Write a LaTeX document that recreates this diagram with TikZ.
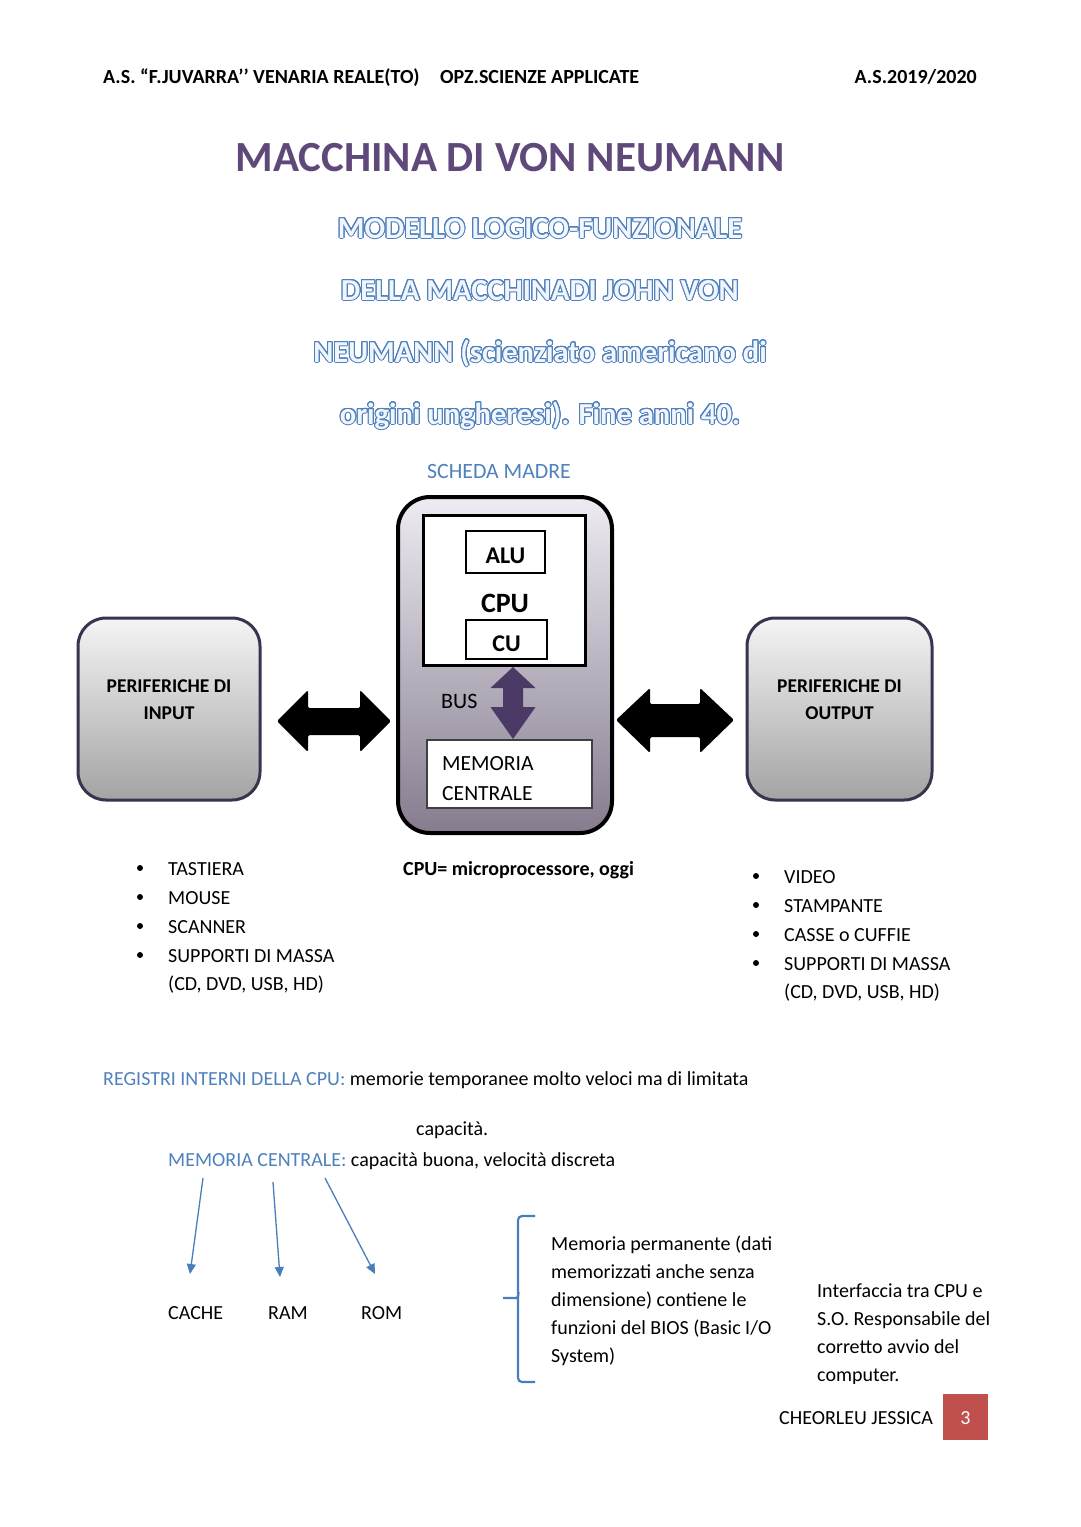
\documentclass[tikz,border=0pt]{standalone}
\usepackage{fontspec}
\setmainfont{Carlito}
\usepackage{contour}
\usetikzlibrary{arrows.meta}
\definecolor{titlepurple}{HTML}{5F497A}
\definecolor{accblue}{HTML}{4F81BD}
\definecolor{linkblue}{HTML}{4A7EBB}
\definecolor{busp}{HTML}{4B3A66}
\definecolor{boxborder}{HTML}{3B3250}
\definecolor{pagered}{HTML}{C0504D}
\definecolor{outfill}{HTML}{F2F6FC}
\definecolor{mbtop}{HTML}{EEEBF2}
\definecolor{mbbot}{HTML}{857C8E}
\newcommand\fsz[2]{\fontsize{#1}{#2}\selectfont}
\contourlength{1pt}
\contournumber{32}
\begin{document}
\begin{tikzpicture}[x=1pt,y=-1pt,
  txt/.style={inner sep=0pt, anchor=base west, font=\fsz{20}{24}},
  hdr/.style={txt, font=\fsz{20}{24}\bfseries},
  titlest/.style={inner sep=0pt, anchor=base, font=\fsz{43}{50}\bfseries, text=titlepurple},
  subt/.style={inner sep=0pt, anchor=base, font=\fsz{30.5}{36}\bfseries, text=outfill},
  periph/.style={draw=boxborder, line width=3pt, rounded corners=28pt, top color=white!96!black, bottom color=black!36},
  plain/.style={draw=black, fill=white, inner sep=0pt},
  lbl/.style={inner sep=0pt, anchor=base, font=\fsz{19.5}{23}\bfseries},
  cpulbl/.style={inner sep=0pt, anchor=base, font=\fsz{24}{28}\bfseries},
  bul/.style={circle, fill=black, inner sep=0pt, minimum size=6pt},
  link/.style={draw=linkblue, line width=1.3pt, -{Triangle[width=9pt,length=10pt]}},
  bigarrow/.style={fill=black},
]
\fill[white] (0,0) rectangle (1080,1527);
\useasboundingbox (0,0) rectangle (1080,1527);

% header
\node[hdr] (hdrA) at (103,83) {A.S. “F.JUVARRA’’ VENARIA REALE(TO)};
\node[hdr] (hdrB) at (440,83) {OPZ.SCIENZE APPLICATE};
\node[hdr, anchor=base east] (hdrC) at (977,83) {A.S.2019/2020};

% title
\node[titlest] (title) at (510,171) {MACCHINA DI VON NEUMANN};
\node[subt] (sub1) at (540,238) {\contour{accblue}{MODELLO LOGICO-FUNZIONALE}};
\node[subt] (sub2) at (540,300) {\contour{accblue}{DELLA MACCHINADI JOHN VON}};
\node[subt] (sub3) at (540,362) {\contour{accblue}{NEUMANN (scienziato americano di}};
\node[subt] (sub4) at (540,424) {\contour{accblue}{origini ungheresi). Fine anni 40.}};

\node[txt, anchor=base, text=accblue, font=\fsz{21.8}{26}] (scheda) at (499,478) {SCHEDA MADRE};

% motherboard
\node[draw=black, line width=4pt, rounded corners=32pt, top color=mbtop, bottom color=mbbot,
      minimum width=214pt, minimum height=336pt, inner sep=0pt] (mb) at (505,665) {};
\node[plain, line width=3pt, minimum width=162pt, minimum height=150pt] (cpu) at (504,590) {};
\node[plain, line width=2pt, minimum width=79pt, minimum height=42pt] (alu) at (505.5,552) {};
\node[cpulbl] (alut) at (505.5,563) {ALU};
\node[cpulbl, font=\fsz{28}{32}\bfseries] (cput) at (505,612) {CPU};
\node[plain, line width=2pt, minimum width=81pt, minimum height=39pt] (cu) at (506.5,639.5) {};
\node[cpulbl] (cut) at (506.5,651) {CU};
\node[txt, font=\fsz{22}{26}] (bus) at (441,708) {BUS};
\node[plain, draw=black!75, line width=2pt, minimum width=165pt, minimum height=68pt] (mem) at (509.5,774) {};
\node[txt, font=\fsz{21.6}{26}] (mem1) at (442,770) {MEMORIA};
\node[txt, font=\fsz{21.6}{26}] (mem2) at (442,800) {CENTRALE};

% bus arrow
\fill[busp] (513,667) -- (535.5,688) -- (523,688) -- (523,707) -- (535.5,707) -- (513,739)
  -- (490.5,707) -- (503,707) -- (503,688) -- (490.5,688) -- cycle;

% peripherals
\node[periph, minimum width=182pt, minimum height=182pt] (inbox) at (169,709) {};
\node[lbl] (in1) at (169,692) {PERIFERICHE DI};
\node[lbl] (in2) at (169,719) {INPUT};
\node[periph, minimum width=185pt, minimum height=182pt] (outbox) at (839.5,709) {};
\node[lbl] (out1) at (839.5,692) {PERIFERICHE DI};
\node[lbl] (out2) at (839.5,719) {OUTPUT};

% big double arrows
\fill[bigarrow, rounded corners=1.5pt] (277,721) -- (308,690) -- (308,708) -- (360,708) -- (360,690) -- (391,721)
  -- (360,752) -- (360,735) -- (308,735) -- (308,752) -- cycle;
\fill[bigarrow, rounded corners=1.5pt] (616,720) -- (650,688) -- (650,704) -- (700,704) -- (700,688) -- (734,720)
  -- (700,753) -- (700,737) -- (650,737) -- (650,753) -- cycle;

% input list
\node[bul] (bi1) at (140,868) {};
\node[txt] (li1) at (168,875) {TASTIERA};
\node[bul] (bi2) at (140,897) {};
\node[txt] (li2) at (168,904) {MOUSE};
\node[bul] (bi3) at (140,926) {};
\node[txt] (li3) at (168,933) {SCANNER};
\node[bul] (bi4) at (140,955) {};
\node[txt] (li4) at (168,962) {SUPPORTI DI MASSA};
\node[txt] (li5) at (168,990) {(CD, DVD, USB, HD)};

\node[txt, font=\fsz{20}{24}\bfseries] (cpueq) at (403,875) {CPU= microprocessore, oggi};

% output list
\node[bul] (bo1) at (756,876) {};
\node[txt] (lo1) at (784,883) {VIDEO};
\node[bul] (bo2) at (756,905) {};
\node[txt] (lo2) at (784,912) {STAMPANTE};
\node[bul] (bo3) at (756,934) {};
\node[txt] (lo3) at (784,941) {CASSE o CUFFIE};
\node[bul] (bo4) at (756,963) {};
\node[txt] (lo4) at (784,970) {SUPPORTI DI MASSA};
\node[txt] (lo5) at (784,998) {(CD, DVD, USB, HD)};

% registers / memory text
\node[txt] (reg) at (103,1085) {\textcolor{accblue}{REGISTRI INTERNI DELLA CPU:} memorie temporanee molto veloci ma di limitata};
\node[txt] (cap) at (416,1135) {capacità.};
\node[txt] (memc) at (168,1166) {\textcolor{accblue}{MEMORIA CENTRALE:} capacità buona, velocità discreta};

\coordinate (s1) at (203,1178);
\coordinate (s2) at (273,1182);
\coordinate (s3) at (325,1178);
\coordinate (e1) at (190,1274);
\coordinate (e2) at (280,1277);
\coordinate (e3) at (375,1274);
\draw[link] (s1) -- (e1);
\draw[link] (s2) -- (e2);
\draw[link] (s3) -- (e3);

\node[txt] (cache) at (168,1319) {CACHE};
\node[txt] (ram) at (268,1319) {RAM};
\node[txt] (rom) at (361,1319) {ROM};

% bracket
\draw[linkblue, line width=2.2pt, rounded corners=4pt] (535,1216) -- (518,1216) -- (518,1382) -- (535,1382);
\draw[linkblue, line width=2.2pt] (503,1298) -- (516,1298) to[out=0,in=-95] (518.5,1292);

\begin{scope}
\clip (540,1225) rectangle (800,1366);
\node[txt] (rm1) at (551,1250) {Memoria permanente (dati};
\node[txt] (rm2) at (551,1278) {memorizzati anche senza};
\node[txt] (rm3) at (551,1306) {dimensione) contiene le};
\node[txt] (rm4) at (551,1334) {funzioni del BIOS (Basic I/O};
\node[txt] (rm5) at (551,1362) {System)};
\end{scope}
\begin{scope}
\clip (805,1270) rectangle (1040,1383);
\node[txt] (ri1) at (817,1297) {Interfaccia tra CPU e};
\node[txt] (ri2) at (817,1325) {S.O. Responsabile del};
\node[txt] (ri3) at (817,1353) {corretto avvio del};
\node[txt] (ri4) at (817,1381) {computer.};
\end{scope}

% footer
\node[txt] (author) at (779,1424) {CHEORLEU JESSICA};
\node[fill=pagered, minimum width=45pt, minimum height=46pt, inner sep=0pt] (pg) at (965.5,1417) {};
\node[inner sep=0pt, anchor=base, font=\fsz{20}{24}, text=white] (pgn) at (965.5,1424) {3};
\end{tikzpicture}
\end{document}
